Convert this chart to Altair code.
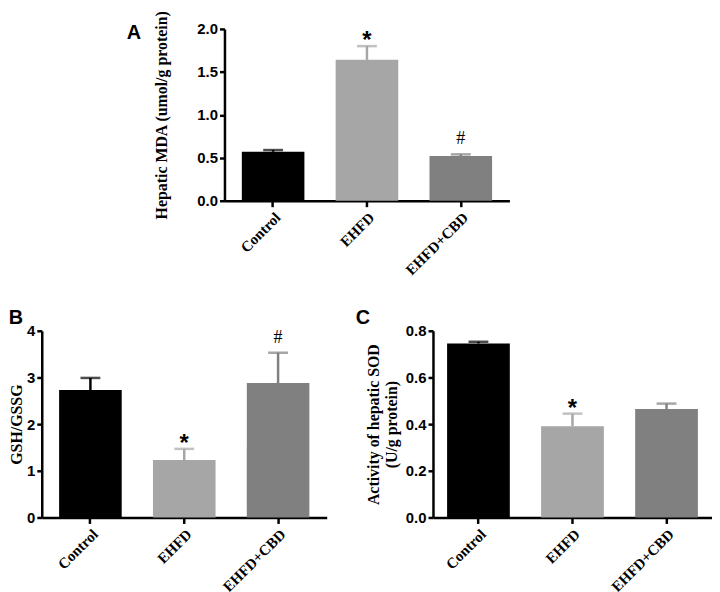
import altair as alt
import pandas as pd

groups = ["Control", "EHFD", "EHFD+CBD"]
bar_colors = ["#000000", "#a6a6a6", "#808080"]

mda_mean = [0.57, 1.64, 0.52]
mda_sem = [0.02, 0.16, 0.02]
gsh_mean = [2.73, 1.23, 2.88]
gsh_sem = [0.26, 0.24, 0.65]
sod_mean = [0.746, 0.391, 0.465]
sod_sem = [0.007, 0.054, 0.023]

sig_a = ["", "*", "#"]
sig_b = ["", "*", "#"]
sig_c = ["", "*", ""]

ticks_a = [0.0, 0.5, 1.0, 1.5, 2.0]
ticks_b = [0, 1, 2, 3, 4]
ticks_c = [0.0, 0.2, 0.4, 0.6, 0.8]

letter_style = dict(font="Liberation Sans", fontWeight="bold", fontSize=20,
                    color="black")


def panel(mean, sem, sig, ticks, fmt, ytitle, w, h, pad_outer, title_pad,
          title=None):
    df = pd.DataFrame({
        "group": groups,
        "mean": mean,
        "upper": [m + s for m, s in zip(mean, sem)],
        "sig": sig,
    })
    x = alt.X("group:N", sort=groups,
              scale=alt.Scale(paddingInner=0.333, paddingOuter=pad_outer),
              axis=alt.Axis(title=None, labelAngle=-45))
    color = alt.Color("group:N", scale=alt.Scale(domain=groups, range=bar_colors),
                      legend=None)
    yscale = alt.Scale(domain=[ticks[0], ticks[-1]], nice=False)
    y = alt.Y("mean:Q", scale=yscale,
              axis=alt.Axis(title=ytitle, values=ticks, format=fmt,
                            titlePadding=title_pad))
    base = alt.Chart(df)
    bars = base.mark_bar().encode(x=x, y=y, color=color)
    rule = base.mark_rule(strokeWidth=2.5).encode(
        x=x, y=alt.Y("mean:Q", scale=yscale), y2="upper:Q", color=color)
    cap = base.mark_tick(size=20, thickness=2.5).encode(
        x=x, y=alt.Y("upper:Q", scale=yscale), color=color)
    star = base.transform_filter(alt.datum.sig == "*").mark_text(
        font="Liberation Sans", fontWeight="bold", fontSize=24,
        baseline="alphabetic", dy=2, color="black").encode(
        x=x, y=alt.Y("upper:Q", scale=yscale), text="sig:N")
    hashm = base.transform_filter(alt.datum.sig == "#").mark_text(
        font="Liberation Serif", fontSize=18,
        baseline="alphabetic", dy=-10, color="black").encode(
        x=x, y=alt.Y("upper:Q", scale=yscale), text="sig:N")
    props = dict(width=w, height=h)
    if title is not None:
        props["title"] = title
    return alt.layer(bars, rule, cap, star, hashm).properties(**props)


title_b = alt.TitleParams("B", anchor="start", frame="bounds", offset=-4,
                          **letter_style)
title_c = alt.TitleParams("C", anchor="start", frame="bounds", dx=-10,
                          offset=-4, **letter_style)

chart_a = panel(mda_mean, mda_sem, sig_a, ticks_a, ".1f",
                "Hepatic MDA (umol/g protein)", 287, 173, 0.185, 28)
chart_b = panel(gsh_mean, gsh_sem, sig_b, ticks_b, "d",
                "GSH/GSSG", 287, 188, 0.185, 2, title_b)
chart_c = panel(sod_mean, sod_sem, sig_c, ticks_c, ".1f",
                ["Activity of hepatic SOD", "(U/g protein)"], 281, 188, 0.15,
                6, title_c)

spacer = alt.Chart(pd.DataFrame({"v": [0]})).mark_point(opacity=0).properties(
    width=112, height=1,
    title=alt.TitleParams("A", orient="bottom", anchor="end", frame="group",
                          dx=-12, offset=-9, baseline="top", **letter_style))

top = alt.hconcat(spacer, chart_a, spacing=0)
bottom = alt.hconcat(chart_b, chart_c, spacing=29)

chart = alt.concat(top, bottom, columns=1, spacing=30, align="none").properties(
    padding={"left": 0, "top": 0, "right": 0, "bottom": 0}
).configure_view(stroke=None).configure_axis(
    grid=False,
    domainColor="black", domainWidth=2.5,
    tickColor="black", tickWidth=2.5, tickSize=5,
    labelColor="black", titleColor="black",
).configure_axisY(
    labelFont="Liberation Sans", labelFontWeight="bold", labelFontSize=15,
    labelPadding=2,
    titleFont="Liberation Serif", titleFontWeight="bold", titleFontSize=16,
).configure_axisX(
    labelFont="Liberation Serif", labelFontWeight="bold", labelFontSize=15,
    labelPadding=3, tickSize=6,
)

chart.save("out.html", embed_options={"renderer": "svg", "actions": False})
